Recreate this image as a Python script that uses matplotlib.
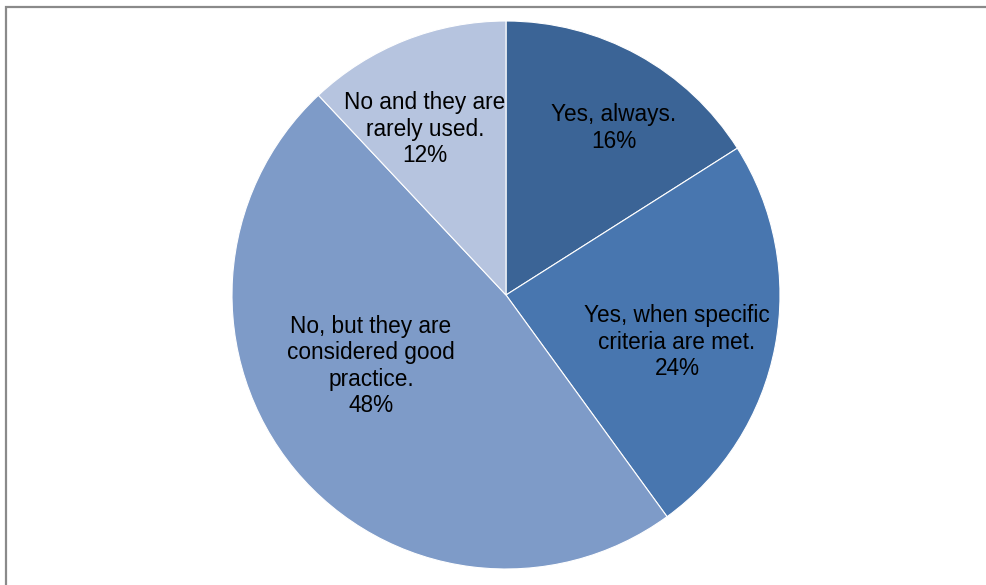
import matplotlib
matplotlib.use("Agg")
import matplotlib.pyplot as plt
from matplotlib import font_manager
from matplotlib.patches import Rectangle

labels = ["Yes, always.", "Yes, when specific\ncriteria are met.",
          "No, but they are\nconsidered good\npractice.", "No and they are\nrarely used."]
shares = [16, 24, 48, 12]
colors = ["#3B6496", "#4876AF", "#7E9BC8", "#B6C4DF"]

# label anchor points, pixel coords from top-left
label_pos = [(614, 128), (677, 342), (371, 366), (425, 129)]

W, H = 987, 585
names = {f.name for f in font_manager.fontManager.ttflist}
narrow = "Liberation Sans Narrow" in names
family = ["Liberation Sans Narrow", "Liberation Sans"] if narrow else ["Liberation Sans"]
fsize = 19 if narrow else 16.3

fig = plt.figure(figsize=(W / 100, H / 100), dpi=100)
ax = fig.add_axes([0, 0, 1, 1])

ax.pie(shares, colors=colors, startangle=90, counterclock=False,
       center=(506, H - 295), radius=274, frame=True,
       wedgeprops=dict(edgecolor="white", linewidth=0.8))
ax.set_xlim(0, W)
ax.set_ylim(0, H)
ax.axis("off")

for lab, val, (px, py) in zip(labels, shares, label_pos):
    ax.text(px, H - py, f"{lab}\n{val}%", ha="center", va="center",
            fontsize=fsize, family=family, linespacing=1.2, color="black")

# outer chart border, clipped at right and bottom
fig.patches.append(Rectangle((6 / W, -0.1), 1.2, (H - 7) / H + 0.1,
                             transform=fig.transFigure, fill=False,
                             edgecolor="#8a8a8a", linewidth=1.6))

fig.savefig("out.png", dpi=100)
